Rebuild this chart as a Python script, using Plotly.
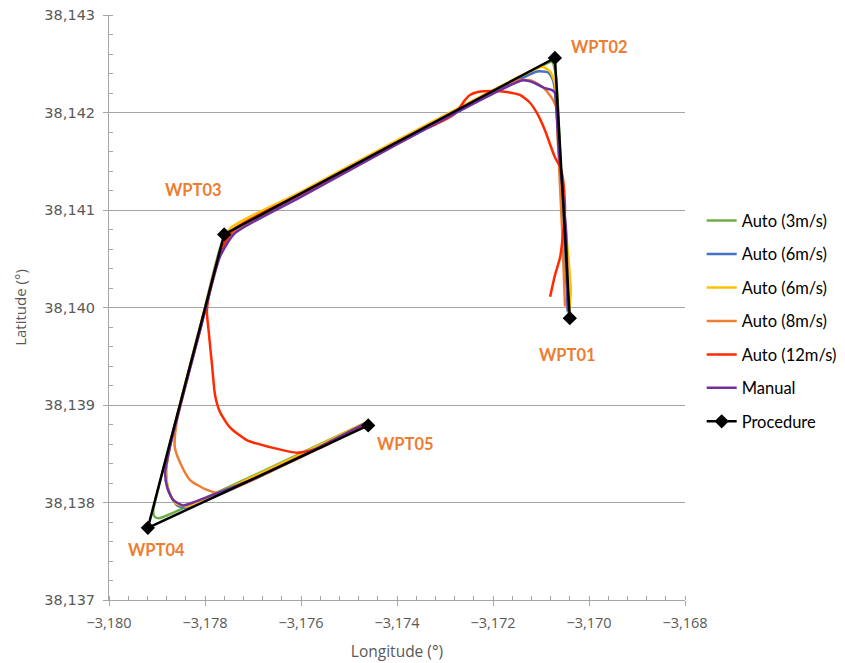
import plotly.graph_objects as go

# Waypoints (procedure)
wpt_names = ["WPT01", "WPT02", "WPT03", "WPT04", "WPT05"]
proc_lon = [-3.17040, -3.17071, -3.17760, -3.17919, -3.17460]
proc_lat = [38.13989, 38.14256, 38.14075, 38.13774, 38.13879]

auto3_lon = [-3.17042, -3.17056, -3.17069, -3.17077, -3.17102, -3.17394, -3.17602, -3.17748, -3.17765,
             -3.17810, -3.17894, -3.17908, -3.17904, -3.17894, -3.17873, -3.17706, -3.17602, -3.17465]
auto3_lat = [38.13995, 38.14110, 38.14238, 38.14252, 38.14247, 38.14171, 38.14116, 38.14077, 38.14066,
             38.13980, 38.13821, 38.13790, 38.13785, 38.13784, 38.13788, 38.13826, 38.13850, 38.13882]

auto6a_lon = [-3.17044, -3.17056, -3.17071, -3.17075, -3.17085, -3.17108, -3.17144, -3.17394, -3.17602,
              -3.17744, -3.17765, -3.17810, -3.17873, -3.17881, -3.17877, -3.17858, -3.17838, -3.17706,
              -3.17602, -3.17465]
auto6a_lat = [38.13995, 38.14110, 38.14223, 38.14233, 38.14241, 38.14242, 38.14234, 38.14170, 38.14115,
              38.14077, 38.14063, 38.13979, 38.13858, 38.13833, 38.13813, 38.13797, 38.13795, 38.13822,
              38.13847, 38.13881]

auto6b_lon = [-3.17042, -3.17038, -3.17056, -3.17067, -3.17071, -3.17081, -3.17098, -3.17144, -3.17394,
              -3.17602, -3.17748, -3.17765, -3.17810, -3.17873, -3.17881, -3.17877, -3.17863, -3.17838,
              -3.17706, -3.17602, -3.17465]
auto6b_lat = [38.13994, 38.14018, 38.14121, 38.14203, 38.14230, 38.14242, 38.14247, 38.14237, 38.14173,
              38.14118, 38.14081, 38.14063, 38.13981, 38.13858, 38.13831, 38.13815, 38.13800, 38.13796,
              38.13825, 38.13849, 38.13882]

auto8_lon = [-3.17050, -3.17056, -3.17065, -3.17067, -3.17075, -3.17096, -3.17123, -3.17158, -3.17394,
             -3.17602, -3.17744, -3.17765, -3.17810, -3.17858, -3.17863, -3.17852, -3.17831, -3.17796,
             -3.17769, -3.17602, -3.17465]
auto8_lat = [38.14001, 38.14080, 38.14172, 38.14203, 38.14213, 38.14226, 38.14233, 38.14232, 38.14169,
             38.14114, 38.14075, 38.14059, 38.13977, 38.13885, 38.13857, 38.13841, 38.13823, 38.13813,
             38.13810, 38.13846, 38.13880]

auto12_lon = [-3.17081, -3.17071, -3.17060, -3.17050, -3.17054, -3.17060, -3.17071, -3.17092, -3.17108,
              -3.17123, -3.17144, -3.17171, -3.17200, -3.17231, -3.17248, -3.17258, -3.17279, -3.17310,
              -3.17394, -3.17602, -3.17738, -3.17765, -3.17785, -3.17796, -3.17792, -3.17785, -3.17779,
              -3.17769, -3.17748, -3.17713, -3.17658, -3.17608, -3.17560, -3.17465]
auto12_lat = [38.14011, 38.14033, 38.14052, 38.14100, 38.14131, 38.14144, 38.14154, 38.14182, 38.14199,
              38.14210, 38.14218, 38.14221, 38.14222, 38.14221, 38.14218, 38.14213, 38.14199, 38.14190,
              38.14171, 38.14116, 38.14081, 38.14061, 38.14028, 38.13997, 38.13974, 38.13939, 38.13910,
              38.13893, 38.13877, 38.13864, 38.13856, 38.13851, 38.13856, 38.13881]

manual_lon = [-3.17044, -3.17048, -3.17063, -3.17067, -3.17071, -3.17077, -3.17092, -3.17117, -3.17138,
              -3.17185, -3.17394, -3.17602, -3.17738, -3.17769, -3.17810, -3.17873, -3.17883, -3.17879,
              -3.17867, -3.17846, -3.17825, -3.17706, -3.17602, -3.17463]
manual_lat = [38.13997, 38.14080, 38.14162, 38.14195, 38.14220, 38.14223, 38.14225, 38.14231, 38.14233,
              38.14223, 38.14169, 38.14113, 38.14076, 38.14052, 38.13977, 38.13857, 38.13830, 38.13816,
              38.13803, 38.13797, 38.13800, 38.13823, 38.13847, 38.13882]

lon_ticks = [-3.180, -3.178, -3.176, -3.174, -3.172, -3.170, -3.168]
lat_ticks = [38.137, 38.138, 38.139, 38.140, 38.141, 38.142, 38.143]

series = [
    ("Auto (3m/s)", auto3_lon, auto3_lat, "#70AD47"),
    ("Auto (6m/s)", auto6a_lon, auto6a_lat, "#4472C4"),
    ("Auto (6m/s)", auto6b_lon, auto6b_lat, "#FFC000"),
    ("Auto (8m/s)", auto8_lon, auto8_lat, "#ED7D31"),
    ("Auto (12m/s)", auto12_lon, auto12_lat, "#FF2A00"),
    ("Manual", manual_lon, manual_lat, "#7030A0"),
]

fig = go.Figure()
for i, (name, lx, ly, col) in enumerate(series):
    fig.add_trace(go.Scatter(x=lx, y=ly, mode="lines", name=name, legendgroup=str(i),
                             line=dict(color=col, width=2.5, shape="spline", smoothing=0.6)))

fig.add_trace(go.Scatter(x=proc_lon, y=proc_lat, mode="lines+markers", name="Procedure",
                         legendgroup="p", line=dict(color="black", width=2.5),
                         marker=dict(symbol="diamond", size=11, color="black")))

label_shifts = {"WPT01": (-2, -37), "WPT02": (45, 11), "WPT03": (-31, 44),
                "WPT04": (9, -22), "WPT05": (37, -19)}
for name, lx, ly in zip(wpt_names, proc_lon, proc_lat):
    dx, dy = label_shifts[name]
    fig.add_annotation(x=lx, y=ly, text="<b>" + name + "</b>", showarrow=False,
                       xshift=dx, yshift=dy,
                       font=dict(family="Lato", size=16.5, color="#ED7D31"))

fig.update_layout(
    width=845, height=663,
    margin=dict(l=101, r=168, t=7, b=71, autoexpand=False),
    paper_bgcolor="white", plot_bgcolor="white",
    separators=",.",
    font=dict(family="Open Sans", size=13, color="#595959"),
    legend=dict(x=1.029, xanchor="left", y=0.678, yanchor="top", tracegroupgap=9,
                font=dict(family="Lato", size=16.5, color="#000000"), bgcolor="rgba(0,0,0,0)"),
    showlegend=True,
)
fig.update_xaxes(range=[lon_ticks[0], lon_ticks[-1]], tickmode="array", tickvals=lon_ticks,
                 tickformat=".3f", automargin=False, ticklabeloverflow="allow",
                 showgrid=False, zeroline=False, showline=True, linecolor="#A6A6A6", linewidth=1,
                 ticks="outside", ticklen=5, tickcolor="#A6A6A6", ticklabelstandoff=5,
                 minor=dict(dtick=0.0004, tick0=-3.180, ticks="inside", ticklen=4, tickcolor="#A6A6A6",
                            showgrid=False),
                 title=dict(text="Longitude (°)", font=dict(family="Open Sans", size=15.5, color="#595959"),
                            standoff=14),
                 tickfont=dict(family="Open Sans", size=14.5, color="#595959"))
fig.update_yaxes(range=[lat_ticks[0], lat_ticks[-1]], tickmode="array", tickvals=lat_ticks,
                 tickformat=".3f", automargin=False, ticklabeloverflow="allow",
                 showgrid=True, gridcolor="#A6A6A6", gridwidth=1, zeroline=False,
                 showline=True, linecolor="#A6A6A6", linewidth=1,
                 ticks="outside", ticklen=5, tickcolor="#A6A6A6", ticklabelstandoff=5,
                 minor=dict(dtick=0.0002, tick0=38.137, ticks="inside", ticklen=4, tickcolor="#A6A6A6",
                            showgrid=False),
                 title=dict(text="Latitude (°)", font=dict(family="Open Sans", size=15, color="#595959"),
                            standoff=14),
                 tickfont=dict(family="DejaVu Sans", size=14.5, color="#595959"))

fig.write_html("out.html")
